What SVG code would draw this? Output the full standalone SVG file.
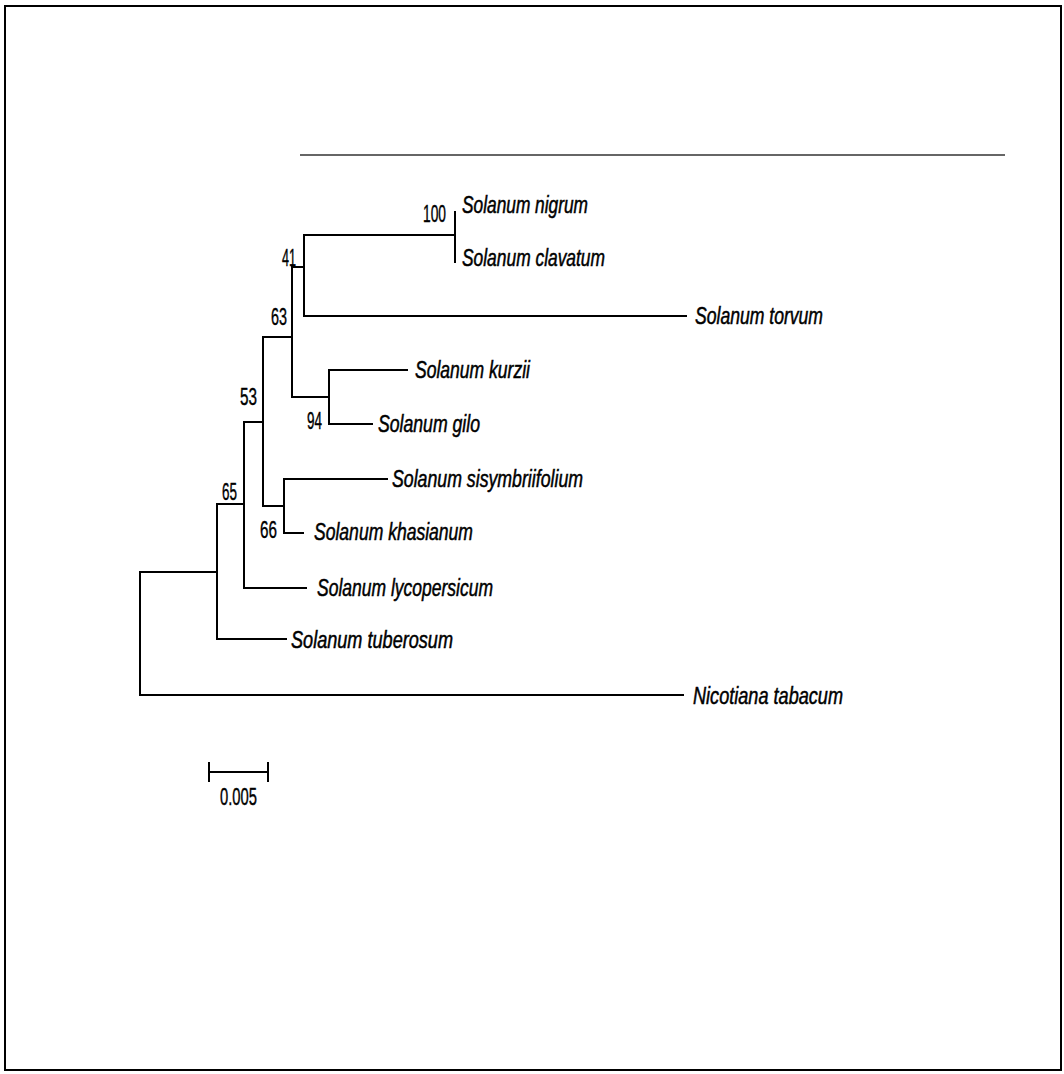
<svg xmlns="http://www.w3.org/2000/svg" width="1064" height="1074" viewBox="0 0 1064 1074">
<style>
.ln{stroke:#000;stroke-width:2;fill:none;stroke-linecap:square}
.tx{font-family:"Liberation Sans",Arial,sans-serif;font-size:23px;font-style:italic;fill:#000;stroke:#000;stroke-width:0.5}
.bs{font-family:"Liberation Sans",Arial,sans-serif;font-size:23px;fill:#000;stroke:#000;stroke-width:0.4}
</style>
<rect x="0" y="0" width="1064" height="1074" fill="#fff"/>
<rect id="frame" x="5" y="6" width="1056" height="1064" fill="none" stroke="#000" stroke-width="2"/>
<line id="topline" x1="300" y1="155" x2="1005" y2="155" stroke="#333" stroke-width="1.3"/>
<g id="connectors">
<path class="ln" d="M140 572V695H683M140 572H217M217 504V639H286M217 504H244M244 422V588H306M244 422H263M263 337V506H284M284 479V533H303M284 479H387M263 337H292M292 267V397H329M329 370V424H372M329 370H407M292 267H304M304 235V316H686M304 235H455M455 212V262"/>
</g>
<g id="n-nigrum"><text class="tx" x="462" y="213" textLength="126" lengthAdjust="spacingAndGlyphs">Solanum nigrum</text></g>
<g id="n-clavatum"><text class="tx" x="462" y="266" textLength="143" lengthAdjust="spacingAndGlyphs">Solanum clavatum</text></g>
<g id="n-torvum"><text class="tx" x="695" y="324" textLength="128" lengthAdjust="spacingAndGlyphs">Solanum torvum</text></g>
<g id="n-kurzii"><text class="tx" x="415" y="378" textLength="115" lengthAdjust="spacingAndGlyphs">Solanum kurzii</text></g>
<g id="n-gilo"><text class="tx" x="378" y="432" textLength="102" lengthAdjust="spacingAndGlyphs">Solanum gilo</text></g>
<g id="n-sisymbriifolium"><text class="tx" x="392" y="487" textLength="191" lengthAdjust="spacingAndGlyphs">Solanum sisymbriifolium</text></g>
<g id="n-khasianum"><text class="tx" x="314" y="540" textLength="159" lengthAdjust="spacingAndGlyphs">Solanum khasianum</text></g>
<g id="n-lycopersicum"><text class="tx" x="317" y="596" textLength="176" lengthAdjust="spacingAndGlyphs">Solanum lycopersicum</text></g>
<g id="n-tuberosum"><text class="tx" x="291" y="648" textLength="162" lengthAdjust="spacingAndGlyphs">Solanum tuberosum</text></g>
<g id="n-tabacum"><text class="tx" x="693" y="704" textLength="150" lengthAdjust="spacingAndGlyphs">Nicotiana tabacum</text></g>
<g id="bootstrap">
<text class="bs" x="423" y="222" textLength="23" lengthAdjust="spacingAndGlyphs">100</text>
<text class="bs" x="282" y="266" textLength="14" lengthAdjust="spacingAndGlyphs">41</text>
<text class="bs" x="271" y="325" textLength="16" lengthAdjust="spacingAndGlyphs">63</text>
<text class="bs" x="307" y="429" textLength="15" lengthAdjust="spacingAndGlyphs">94</text>
<text class="bs" x="240" y="405" textLength="17" lengthAdjust="spacingAndGlyphs">53</text>
<text class="bs" x="222" y="500" textLength="15" lengthAdjust="spacingAndGlyphs">65</text>
<text class="bs" x="260" y="538" textLength="17" lengthAdjust="spacingAndGlyphs">66</text>
</g>
<g id="scalebar">
<path class="ln" d="M209 772H268M209 763V781M268 763V781"/>
<text class="bs" x="220" y="805" textLength="37" lengthAdjust="spacingAndGlyphs">0.005</text>
</g>
</svg>
